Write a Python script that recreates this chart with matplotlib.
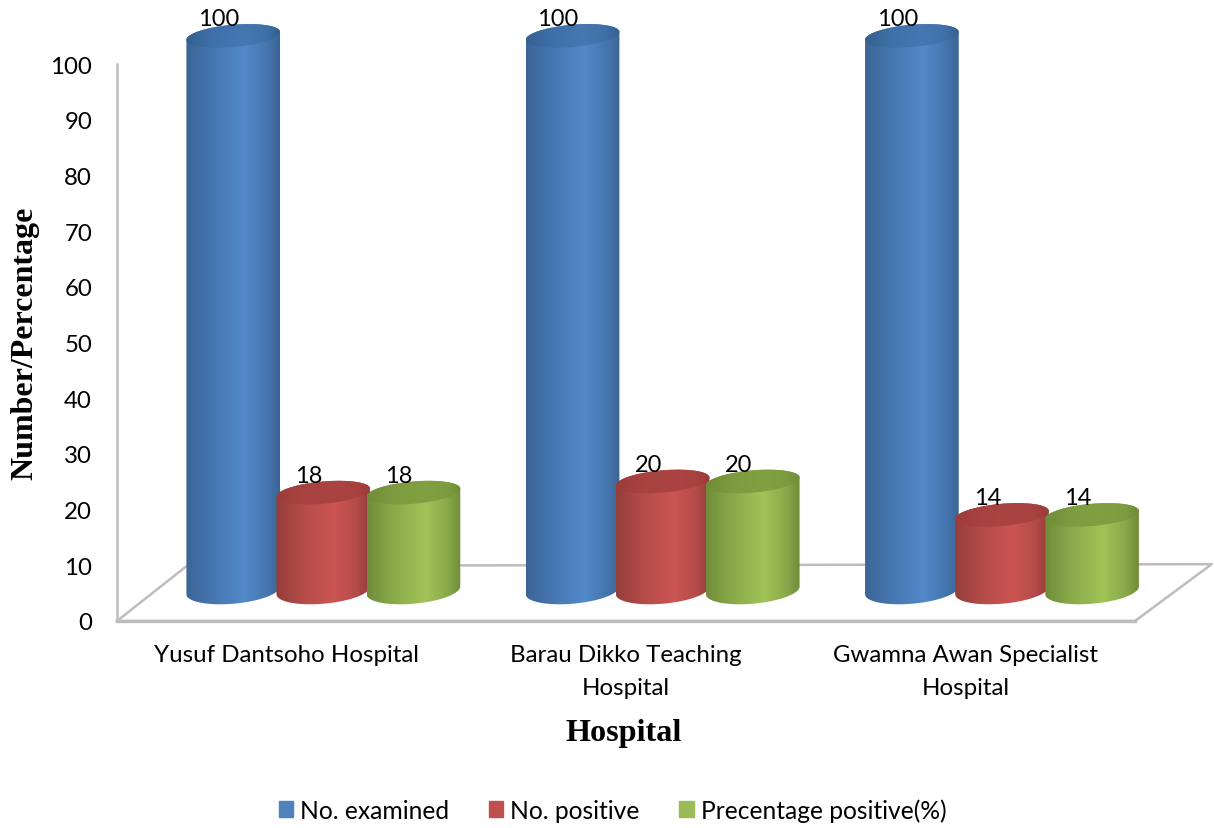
import numpy as np
import matplotlib
matplotlib.use('Agg')
import matplotlib.pyplot as plt
from matplotlib.colors import LinearSegmentedColormap
from matplotlib.patches import PathPatch, Rectangle
from matplotlib.path import Path

hospitals = ['Yusuf Dantsoho Hospital', 'Barau Dikko Teaching\nHospital', 'Gwamna Awan Specialist\nHospital']
series_names = ['No. examined', 'No. positive', 'Precentage positive(%)']
examined = [100, 100, 100]
positive = [18, 20, 14]
percentage = [18, 20, 14]
y_ticks = [0, 10, 20, 30, 40, 50, 60, 70, 80, 90, 100]

legend_colors = ['#4F81BD', '#C0504D', '#9BBB59']
# edge, mid, highlight of each cylinder, then its cap
body_colors = [('#3C6596', '#4676B0', '#5289CB'),
               ('#943D3B', '#B44C49', '#CC5552'),
               ('#708C3A', '#8AAA4A', '#A2C356')]
cap_colors = [('#33608F', '#3F70A8', '#4677B0'),
              ('#9C3C3A', '#A84240', '#A94442'),
              ('#708C38', '#7D9C40', '#80A040')]

W, H = 1214, 829
plt.rcParams['font.family'] = ['Lato', 'DejaVu Sans']
fig = plt.figure(figsize=(W / 100, H / 100), dpi=100)
ax = fig.add_axes([117 / W, (H - 622) / H, 1018 / W, 557 / H])
ax.patch.set_visible(False)

# sizes in category widths (x) and value units (y)
half_w = 0.138
step = 0.2655
shift = 0.108
base = 5.05
foot = 5.5
cap_b = 2.0
foot_b = 2.4
shear = 0.7
depth_x = 0.206
depth_y = 9.9
line_grey = '#BDBDBD'


def gradient(colors):
    stops = [(0, colors[0]), (0.28, colors[1]), (0.62, colors[2]), (0.85, colors[1]), (1, colors[0])]
    return LinearSegmentedColormap.from_list('cyl', stops)


def ellipse(cx, cy, b, t):
    return np.column_stack([cx + half_w * np.cos(t), cy + b * np.sin(t) + shear * np.cos(t)])


def fill_shape(points, x0, cmap, z):
    path = Path(np.vstack([points, points[0]]))
    patch = PathPatch(path, transform=ax.transData, visible=False)
    ax.add_patch(patch)
    grad = np.linspace(0, 1, 256).reshape(1, -1)
    im = ax.imshow(grad, cmap=cmap, aspect='auto', zorder=z, interpolation='bilinear',
                   extent=[x0 - half_w, x0 + half_w, 0, 110])
    im.set_clip_box(fig.bbox)
    im.set_clip_path(patch)


def cylinder(cx, value, colors, top_colors, z):
    top = base + value
    lower = ellipse(cx, foot, foot_b, np.linspace(np.pi, 2 * np.pi, 60))
    upper = ellipse(cx, top, cap_b, np.linspace(0, np.pi, 60))
    fill_shape(np.vstack([lower, upper]), cx, gradient(colors), z)
    cap = ellipse(cx, top, cap_b, np.linspace(0, 2 * np.pi, 120))
    fill_shape(cap, cx, gradient(top_colors), z + 0.1)


# floor and side wall
floor_x = [0, depth_x, 3 + depth_x + 0.02, 3, 0]
floor_y = [0, depth_y, depth_y + 0.3, 0, 0]
ax.plot(floor_x, floor_y, color=line_grey, lw=1.8, clip_on=False, zorder=1)
ax.plot([0, 3], [0, 0], color=line_grey, lw=2.4, clip_on=False, zorder=1)
ax.plot([0, 0], [0, 100], color=line_grey, lw=1.8, clip_on=False, zorder=1)

all_series = [examined, positive, percentage]
for g in range(len(hospitals)):
    for s, values in enumerate(all_series):
        cx = g + 0.5 + shift + (s - 1) * step
        z = 2 + g + s * 0.3
        cylinder(cx, values[g], body_colors[s], cap_colors[s], z)
        ax.annotate(str(values[g]), (cx, base + values[g]), xytext=(-10.5, 12.5),
                    textcoords='offset points', ha='center', va='center',
                    fontsize=17, color='black', zorder=20, annotation_clip=False)

ax.set_xlim(0, 3)
ax.set_ylim(0, 100)
ax.set_yticks(y_ticks)
ax.set_xticks([0.5, 1.5, 2.5])
ax.set_xticklabels(hospitals, linespacing=1.7)
ax.tick_params(axis='y', length=0, pad=18, labelsize=17.3)
ax.tick_params(axis='x', length=0, pad=16.5, labelsize=17.3)
for side in ax.spines.values():
    side.set_visible(False)

serif = ['Liberation Serif', 'DejaVu Serif']
fig.text(25 / W, 1 - 343 / H, 'Number/Percentage', rotation=90, ha='center', va='center',
         fontsize=23, fontweight='bold', family=serif)
fig.text(624 / W, 1 - 734 / H, 'Hospital', ha='center', va='center',
         fontsize=23.2, fontweight='bold', family=serif)

handles = [Rectangle((0, 0), 1, 1, color=c) for c in legend_colors]
fig.legend(handles, series_names, ncol=3, loc='center', bbox_to_anchor=(612.5 / W, 1 - 811 / H),
           frameon=False, fontsize=17.7, handlelength=0.6, handleheight=0.6,
           handletextpad=0.28, columnspacing=1.6)

fig.savefig('out.png', dpi=100)
